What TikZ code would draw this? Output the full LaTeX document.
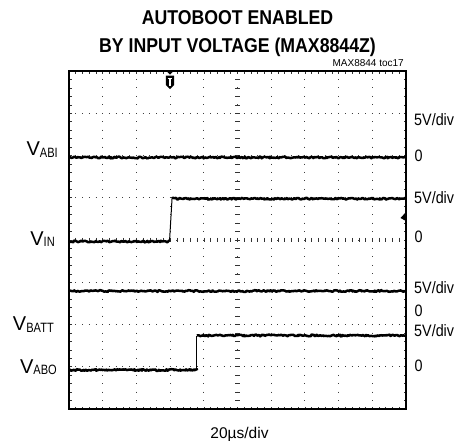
\documentclass[tikz,border=0pt]{standalone}
\usepackage{fontspec}
\setmainfont{Liberation Sans}
\newfontfamily\titlefont[FakeStretch=0.885]{Liberation Sans}
\newfontfamily\narrowfont[FakeStretch=0.87]{Liberation Sans}
\newfontfamily\subfont[FakeStretch=0.82]{Liberation Sans}
\usetikzlibrary{decorations.pathmorphing}
\begin{document}
\pgfmathsetseed{7}
\begin{tikzpicture}[x=1pt,y=-1pt,
  trace/.style={line width=2.5pt, line join=round, decorate, decoration={random steps,segment length=1.2pt,amplitude=0.85pt}},
  edgeline/.style={line width=1pt},
  gridh/.style={line width=0.9pt, black!75, dash pattern=on 0.9pt off 5.84pt},
  gridv/.style={line width=0.9pt, black!75, dash pattern=on 0.9pt off 7.55pt},
  tickline/.style={line width=0.6pt, black!80},
  frameline/.style={line width=2pt},
  rlab/.style={anchor=base west, inner sep=0pt, font=\narrowfont\fontsize{16.5}{18}\selectfont},
  llab/.style={anchor=base east, inner sep=0pt, font=\fontsize{20}{22}\selectfont},
  titletext/.style={anchor=base, inner sep=0pt, font=\titlefont\bfseries\fontsize{20}{24}\selectfont},
]
\useasboundingbox (0,0) rectangle (465,440);
\fill[white] (0,0) rectangle (465,440);

% grid
\foreach \k in {1,...,7} { \draw[gridh] (68.55,{71+42.25*\k}) -- (406,{71+42.25*\k}); }
\foreach \k in {1,...,9} { \draw[gridv] ({69+33.7*\k},70.55) -- ({69+33.7*\k},409); }
% center axes ticks
\foreach \j in {0,...,50} { \draw[tickline] ({69+6.74*\j},237.8) -- ({69+6.74*\j},242.2); }
\foreach \j in {0,...,40} { \draw[tickline] (235.3,{71+8.45*\j}) -- (239.7,{71+8.45*\j}); }
% frame ticks
\foreach \j in {0,...,50} {
  \draw[tickline] ({69+6.74*\j},71) -- ({69+6.74*\j},73.5);
  \draw[tickline] ({69+6.74*\j},409) -- ({69+6.74*\j},406.5);
}
\foreach \j in {0,...,40} {
  \draw[tickline] (69,{71+8.45*\j}) -- (71.5,{71+8.45*\j});
  \draw[tickline] (406,{71+8.45*\j}) -- (403.5,{71+8.45*\j});
}

% traces
\draw[trace] (69,157.5) -- (406,157.5);
\draw[trace] (69,241.5) -- (169.5,241.5);
\draw[edgeline] (169.5,241.5) -- (172,199);
\draw[trace] (172,198.7) -- (406,198.7);
\draw[trace] (69,291) -- (406,291);
\draw[trace] (69,370) -- (196.8,370);
\draw[edgeline] (196.8,370) -- (196.8,335.5);
\draw[trace] (196.8,335.5) -- (406,335.5);

% frame
\draw[frameline] (69,71) rectangle (406,409);

% trigger markers
\fill (166.5,71) -- (173.5,71) -- (170,74.5) -- cycle;
\fill (165.8,75.5) -- (174.2,75.5) -- (174.2,85) -- (170,89) -- (165.8,85) -- cycle;
\draw[white, line width=1.3pt] (167.6,78.5) -- (172.4,78.5) (170,78.5) -- (170,86);
\fill (406,212) -- (400.5,218) -- (406,221) -- cycle;

% texts
\node[titletext] (t1) at (237.5,24.5) {AUTOBOOT ENABLED};
\node[titletext] (t2) at (237.5,52) {BY INPUT VOLTAGE (MAX8844Z)};
\node[anchor=base east, inner sep=0pt, font=\fontsize{10}{12}\selectfont] (toc) at (404,66.7) {MAX8844 toc17};

\node[rlab] (r1) at (414,125) {5V/div};
\node[rlab] (r2) at (414.5,161.7) {0};
\node[rlab] (r3) at (414,203.3) {5V/div};
\node[rlab] (r4) at (414.5,242.7) {0};
\node[rlab] (r5) at (414,293.3) {5V/div};
\node[rlab] (r6) at (414.5,316) {0};
\node[rlab] (r7) at (414,336) {5V/div};
\node[rlab] (r8) at (414.5,371.7) {0};

\node[llab] (vabi) at (58,155.7) {V\raisebox{-1.5pt}{\subfont\fontsize{13.5}{15}\selectfont ABI}};
\node[llab] (vin) at (55,245) {V\raisebox{-1.5pt}{\subfont\fontsize{13.5}{15}\selectfont IN}};
\node[llab] (vbatt) at (54,330.5) {V\raisebox{-1.5pt}{\subfont\fontsize{13.5}{15}\selectfont BATT}};
\node[llab] (vabo) at (57,373.3) {V\raisebox{-1.5pt}{\subfont\fontsize{13.5}{15}\selectfont ABO}};

\node[anchor=base, inner sep=0pt, font=\fontsize{15.5}{17}\selectfont] (tdiv) at (239.5,438) {20µs/div};
\end{tikzpicture}
\end{document}
